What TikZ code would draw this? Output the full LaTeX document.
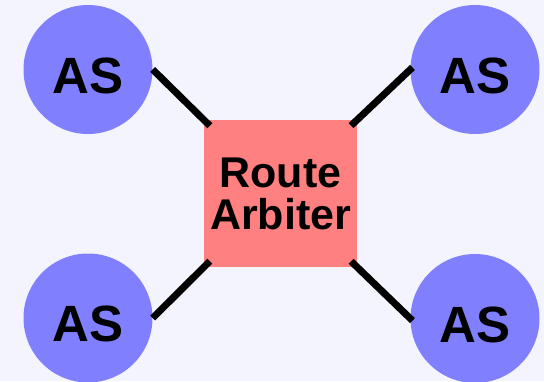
\documentclass[tikz,border=0pt]{standalone}
\usepackage{fontspec}
\setmainfont{Liberation Sans}
\definecolor{bgpaper}{HTML}{F4F4FE}
\definecolor{asblue}{HTML}{8080FF}
\definecolor{arbred}{HTML}{FF8080}
\tikzset{
  asnode/.style={circle, fill=asblue, draw=none, minimum size=129pt, inner sep=0pt,
    font=\fontsize{51pt}{51pt}\selectfont\bfseries, text height=47pt, text depth=0pt},
  arbiter/.style={rectangle, fill=arbred, draw=none, minimum width=153pt, minimum height=147pt,
    inner sep=0pt, align=center, font=\fontsize{43pt}{42pt}\selectfont\bfseries},
  link/.style={line width=7pt, black, line cap=butt}
}
\begin{document}
\begin{tikzpicture}[x=1pt,y=-1pt]
  \fill[bgpaper] (0,0) rectangle (544,381);
  \useasboundingbox (0,0) rectangle (544,381);
  \clip (0,0) rectangle (544,381);
  \node[arbiter] (ra) at (280.5,193.5) {Route\\Arbiter};
  \node[asnode] (tl) at (88,69.5) {AS};
  \node[asnode] (tr) at (475,69.5) {AS};
  \node[asnode] (bl) at (88,318) {AS};
  \node[asnode] (br) at (475,318.5) {AS};
  \draw[link, shorten >=-8.5pt] (tl.east) -- (ra.north west);
  \draw[link, shorten >=-8.5pt] (bl.east) -- (ra.south west);
  \draw[link, shorten <=-8.5pt, shorten >=-3pt] (ra.north east) -- (tr.west);
  \draw[link, shorten <=-8.5pt, shorten >=-3pt] (ra.south east) -- (br.west);
\end{tikzpicture}
\end{document}
